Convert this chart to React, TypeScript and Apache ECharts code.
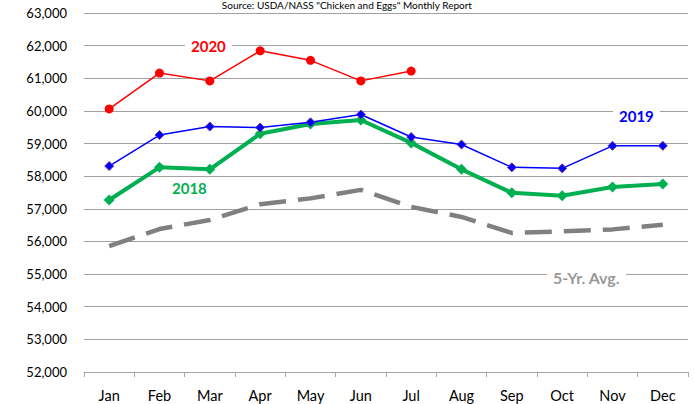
import React, { useEffect, useRef } from "react";
import * as echarts from "echarts";

const months = ["Jan", "Feb", "Mar", "Apr", "May", "Jun", "Jul", "Aug", "Sep", "Oct", "Nov", "Dec"];
const yr2020 = [60060, 61160, 60920, 61840, 61550, 60920, 61220];
const yr2019 = [58310, 59260, 59520, 59490, 59650, 59890, 59200, 58970, 58270, 58240, 58930, 58930];
const yr2018 = [57270, 58270, 58210, 59300, 59600, 59720, 59020, 58210, 57490, 57400, 57670, 57760];
const avg5 = [55860, 56380, 56660, 57140, 57320, 57580, 57060, 56750, 56260, 56310, 56370, 56510];
const titleText = 'Source: USDA/NASS "Chicken and Eggs" Monthly Report';

const FONT = "Lato, 'Open Sans', sans-serif";

export default function App() {
  const ref = useRef<HTMLDivElement>(null);
  useEffect(() => {
    if (!ref.current) return;
    const chart = echarts.init(ref.current, null, { renderer: "svg" });
    const lbl = (text: string, color: string, x: number, y: number, size = 15) => ({
      type: "text",
      left: x,
      top: y,
      z: 100,
      style: {
        text,
        fill: color,
        font: `bold ${size}px ${FONT}`,
        backgroundColor: "#fff",
        padding: [1, 6, 1, 6],
      },
    });
    chart.setOption({
      animation: false,
      backgroundColor: "#fff",
      grid: { left: 84, right: 6, top: 13, bottom: 32 },
      xAxis: {
        type: "category",
        data: months,
        boundaryGap: true,
        axisLine: { lineStyle: { color: "#a6a6a6", width: 1 } },
        axisTick: { show: true, length: 5, lineStyle: { color: "#a6a6a6" } },
        axisLabel: { color: "#000", fontSize: 14.5, fontFamily: FONT, margin: 16 },
      },
      yAxis: {
        type: "value",
        min: 52000,
        max: 63000,
        interval: 1000,
        axisLine: { show: false },
        axisTick: { show: false },
        splitLine: { lineStyle: { color: "#a0a0a0", width: 1.2 } },
        axisLabel: {
          color: "#000",
          fontSize: 13,
          fontFamily: FONT,
          margin: 17,
          formatter: (v: number) => v.toLocaleString("en-US"),
        },
      },
      graphic: [
        {
          type: "text",
          left: "center",
          top: 0,
          style: { text: titleText, fill: "#000", font: `10px ${FONT}` },
        },
        lbl("2020", "#ff0000", 185, 37),
        lbl("2019", "#0000ff", 613, 107),
        lbl("2018", "#00b050", 166, 179),
        lbl("5-Yr. Avg.", "#999999", 547, 268, 16),
      ],
      series: [
        {
          name: "5-Yr. Avg.",
          type: "line",
          data: avg5,
          symbol: "none",
          lineStyle: { color: "#808080", width: 4.5, type: [27, 12], cap: "butt" },
          z: 2,
        },
        {
          name: "2018",
          type: "line",
          data: yr2018,
          symbol: "diamond",
          symbolSize: 11,
          itemStyle: { color: "#00b050" },
          lineStyle: { color: "#00b050", width: 4 },
          z: 3,
        },
        {
          name: "2019",
          type: "line",
          data: yr2019,
          symbol: "diamond",
          symbolSize: 9,
          itemStyle: { color: "#0000ff", borderColor: "#7030a0", borderWidth: 1 },
          lineStyle: { color: "#0000ff", width: 1.5 },
          z: 4,
        },
        {
          name: "2020",
          type: "line",
          data: yr2020,
          symbol: "circle",
          symbolSize: 9,
          itemStyle: { color: "#ff0000" },
          lineStyle: { color: "#ff0000", width: 1.5 },
          z: 5,
        },
      ],
    });
    return () => chart.dispose();
  }, []);
  return (
    <div
      ref={ref}
      style={{ position: "fixed", left: 0, top: 0, width: 694, height: 404 }}
    />
  );
}
